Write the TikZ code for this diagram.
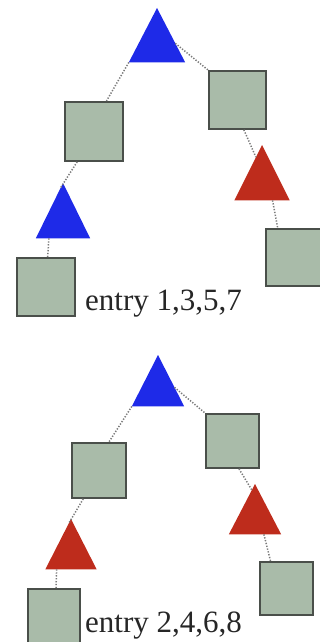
\documentclass[tikz,border=0pt]{standalone}
\usepackage{fontspec}
\setmainfont{Liberation Serif}
\usetikzlibrary{calc}
\definecolor{triblue}{HTML}{1E2AE8}
\definecolor{trired}{HTML}{BE2C1C}
\definecolor{boxfill}{HTML}{A9BBA9}
\definecolor{boxline}{HTML}{4A4F4A}
\definecolor{linkgray}{HTML}{7A7A7A}
\tikzset{
  sq/.style={draw=boxline, fill=boxfill, line width=1.8pt, inner sep=0pt, anchor=north west},
  trihold/.style={inner sep=0pt, anchor=north},
  link/.style={draw=linkgray, line width=1.5pt, dash pattern=on 1.3pt off 1.6pt},
  lbl/.style={anchor=base west, inner sep=0pt, text=black!85, font=\fontsize{31}{31}\selectfont}
}
\newcommand{\tri}[2]{\fill[#2] (#1.south west) -- (#1.north) -- (#1.south east) -- cycle;}
\begin{document}
\begin{tikzpicture}[x=1pt,y=-1pt]
\useasboundingbox (0,0) rectangle (320,642);
% ---------- top tree ----------
\node[trihold, minimum width=56pt, minimum height=54pt] (T1) at (157,8) {};
\node[trihold, minimum width=54pt, minimum height=55pt] (T2) at (63,183) {};
\node[trihold, minimum width=55pt, minimum height=55pt] (T3) at (262,145) {};
\tri{T1}{triblue}
\tri{T2}{triblue}
\tri{T3}{trired}
\node[sq, minimum width=58pt, minimum height=59pt] (S1) at (64,101) {};
\node[sq, minimum width=57pt, minimum height=58pt] (S2) at (208,70) {};
\node[sq, minimum width=58pt, minimum height=58pt] (S3) at (16,257) {};
\node[sq, minimum width=56pt, minimum height=57pt] (S4) at (265,228) {};
\node[lbl] (L1) at (85,310) {entry 1,3,5,7};
\draw[link] (T1.south west) -- ($(S1.north west)!.71!(S1.north east)$);
\draw[link] ($(T1.north)!.65!(T1.south east)$) -- (S2.north west);
\draw[link] ($(S1.south west)!.22!(S1.south east)$) -- ($(T2.north)!.08!(T2.south west)$);
\draw[link] ($(T2.south west)!.24!(T2.south east)$) -- ($(S3.north west)!.53!(S3.north east)$);
\draw[link] ($(S2.south west)!.61!(S2.south east)$) -- ($(T3.north)!.22!(T3.south west)$);
\draw[link] ($(T3.south west)!.69!(T3.south east)$) -- ($(S4.north west)!.22!(S4.north east)$);
% ---------- bottom tree ----------
\node[trihold, minimum width=52pt, minimum height=51pt] (T4) at (158,355) {};
\node[trihold, minimum width=51pt, minimum height=50pt] (T5) at (71,519) {};
\node[trihold, minimum width=52pt, minimum height=50pt] (T6) at (255,484) {};
\tri{T4}{triblue}
\tri{T5}{trired}
\tri{T6}{trired}
\node[sq, minimum width=54pt, minimum height=55pt] (S5) at (71,442) {};
\node[sq, minimum width=53pt, minimum height=54pt] (S6) at (205,413) {};
\node[sq, minimum width=52pt, minimum height=54pt] (S7) at (27,588) {};
\node[sq, minimum width=53pt, minimum height=53pt] (S8) at (259,561) {};
\node[lbl] (L2) at (85,632) {entry 2,4,6,8};
\draw[link] (T4.south west) -- ($(S5.north west)!.68!(S5.north east)$);
\draw[link] ($(T4.north)!.63!(T4.south east)$) -- (S6.north west);
\draw[link] ($(S5.south west)!.22!(S5.south east)$) -- ($(T5.north)!.08!(T5.south west)$);
\draw[link] ($(T5.south west)!.22!(T5.south east)$) -- ($(S7.north west)!.54!(S7.north east)$);
\draw[link] ($(S6.south west)!.62!(S6.south east)$) -- ($(T6.north)!.12!(T6.south west)$);
\draw[link] ($(T6.south west)!.67!(T6.south east)$) -- ($(S8.north west)!.21!(S8.north east)$);
\end{tikzpicture}
\end{document}
